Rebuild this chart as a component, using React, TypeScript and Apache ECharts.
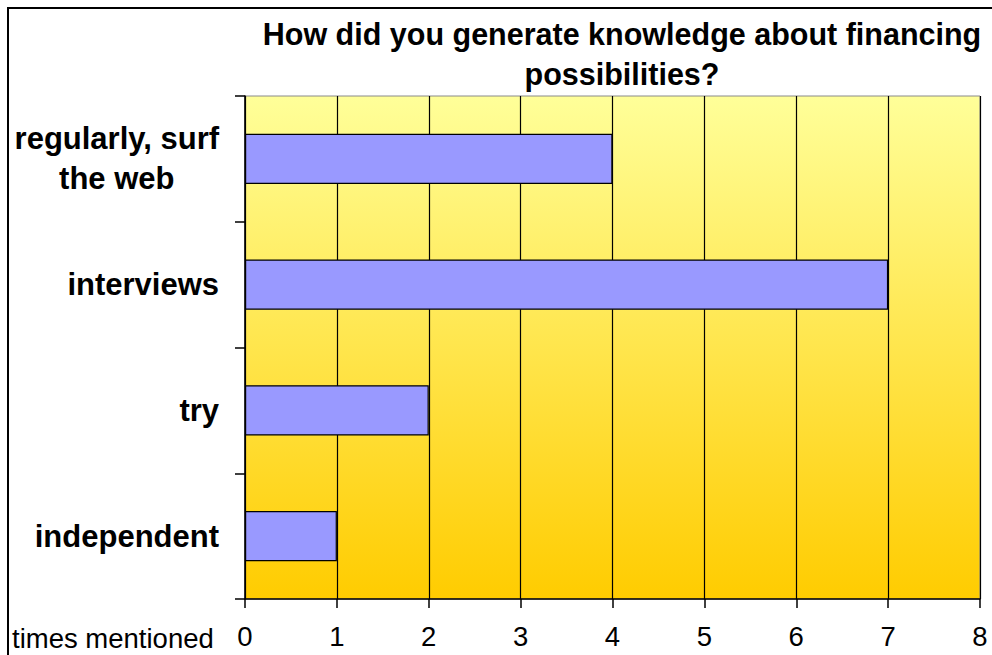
import React, { useEffect, useRef } from "react";
import * as echarts from "echarts";

const categories = ["regularly, surf\nthe web", "interviews", "try", "independent"];
const values = [4, 7, 2, 1];
const xMin = 0;
const xMax = 8;
const xInterval = 1;
const titleText = "How did you generate knowledge about financing\npossibilities?";
const xAxisName = "times mentioned";

const FONT = "'Liberation Sans', Arial, Helvetica, sans-serif";

export default function App() {
  const ref = useRef<HTMLDivElement>(null);
  useEffect(() => {
    if (!ref.current) return;
    const chart = echarts.init(ref.current, null, { renderer: "svg" });
    chart.setOption({
      animation: false,
      backgroundColor: "#ffffff",
      title: {
        text: titleText,
        left: 617,
        top: 9,
        textAlign: "center",
        textStyle: {
          fontFamily: FONT,
          fontSize: 30.5,
          fontWeight: "bold",
          color: "#000",
          lineHeight: 40,
        },
      },
      graphic: [
        {
          type: "rect",
          shape: { x: 8, y: 8, width: 1000, height: 700 },
          style: { fill: "none", stroke: "#000", lineWidth: 2 },
          silent: true,
        },
        {
          type: "text",
          x: 12,
          y: 638,
          style: {
            text: xAxisName,
            fontFamily: FONT,
            fontSize: 27.5,
            fill: "#000",
            textAlign: "left",
            textVerticalAlign: "middle",
          },
        },
      ],
      grid: {
        left: 245,
        right: 12,
        top: 96,
        bottom: 56,
        show: true,
        borderColor: "#8a8a8a",
        borderWidth: 1,
        backgroundColor: new echarts.graphic.LinearGradient(0, 0, 0, 1, [
          { offset: 0, color: "#FFFF99" },
          { offset: 1, color: "#FFCC00" },
        ]),
      },
      xAxis: {
        type: "value",
        min: xMin,
        max: xMax,
        interval: xInterval,
        axisLine: { show: true, lineStyle: { color: "#000", width: 1.5 } },
        axisTick: { show: true, length: 9, lineStyle: { color: "#000", width: 1.5 } },
        splitLine: { show: true, lineStyle: { color: "#000", width: 1.2 } },
        axisLabel: {
          margin: 23,
          fontFamily: FONT,
          fontSize: 27.5,
          color: "#000",
        },
      },
      yAxis: {
        type: "category",
        inverse: true,
        data: categories,
        axisLine: { show: true, lineStyle: { color: "#000", width: 1.5 } },
        axisTick: { show: true, length: 10, lineStyle: { color: "#000", width: 1.5 } },
        splitLine: { show: false },
        axisLabel: {
          margin: 26,
          formatter: (v: string) => `{c|${v}}`,
          rich: {
            c: {
              align: "center",
              fontFamily: FONT,
              fontSize: 31,
              fontWeight: "bold",
              color: "#000",
              lineHeight: 40,
            },
          },
        },
      },
      series: [
        {
          type: "bar",
          data: values,
          barWidth: "40%",
          itemStyle: { color: "#9999FF", borderColor: "#000", borderWidth: 1.2 },
        },
      ],
    });
    return () => chart.dispose();
  }, []);
  return (
    <div
      ref={ref}
      style={{ position: "absolute", left: 0, top: 0, width: 992, height: 655 }}
    />
  );
}
